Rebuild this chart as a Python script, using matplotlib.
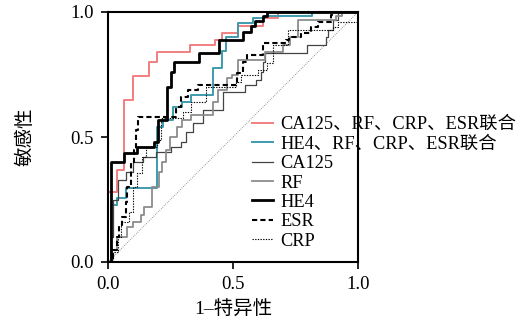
import matplotlib
matplotlib.use("Agg")
import matplotlib.pyplot as plt

# ROC 曲线数据 (1-特异性, 敏感性)
combo1_x = [0, 0, 0.037, 0.065, 0.099, 0.165, 0.197, 0.328, 0.428, 0.455, 0.52, 0.62, 0.68, 1.0]
combo1_y = [0, 0.28, 0.37, 0.65, 0.745, 0.80, 0.84, 0.87, 0.89, 0.915, 0.945, 0.975, 1.0, 1.0]

combo2_x = [0, 0.012, 0.036, 0.07, 0.195, 0.22, 0.26, 0.295, 0.33, 0.42, 0.456, 0.47, 0.52, 0.58, 0.628, 0.815, 1.0]
combo2_y = [0, 0.23, 0.255, 0.295, 0.54, 0.57, 0.62, 0.64, 0.668, 0.776, 0.844, 0.90, 0.956, 0.975, 0.985, 1.0, 1.0]

ca125_x = [0, 0.01, 0.02, 0.04, 0.07, 0.10, 0.14, 0.19, 0.25, 0.29, 0.31, 0.34, 0.38, 0.46, 0.528, 0.548, 0.59, 0.61,
           0.62, 0.628, 0.795, 0.87, 0.88, 0.90, 0.92, 1.0]
ca125_y = [0, 0.10, 0.25, 0.33, 0.36, 0.40, 0.42, 0.44, 0.46, 0.48, 0.52, 0.556, 0.608, 0.68, 0.68, 0.71, 0.73, 0.76,
           0.80, 0.835, 0.868, 0.90, 0.93, 0.968, 1.0, 1.0]

rf_x = [0, 0.01, 0.035, 0.075, 0.10, 0.13, 0.145, 0.175, 0.205, 0.215, 0.23, 0.248, 0.275, 0.295, 0.33, 0.42, 0.44,
        0.475, 0.495, 0.52, 0.628, 0.70, 0.728, 0.76, 0.91, 0.935, 1.0]
rf_y = [0, 0.05, 0.10, 0.14, 0.16, 0.19, 0.22, 0.30, 0.36, 0.40, 0.45, 0.50, 0.54, 0.57, 0.59, 0.64, 0.69,
        0.735, 0.75, 0.808, 0.84, 0.868, 0.90, 0.968, 0.985, 1.0, 1.0]

he4_x = [0, 0.012, 0.064, 0.115, 0.184, 0.20, 0.236, 0.25, 0.264, 0.364, 0.444, 0.54, 0.57, 0.588, 0.62, 0.635, 1.0]
he4_y = [0, 0.40, 0.435, 0.46, 0.48, 0.57, 0.70, 0.76, 0.80, 0.836, 0.89, 0.92, 0.944, 0.964, 0.984, 1.0, 1.0]

esr_x = [0, 0.02, 0.035, 0.045, 0.055, 0.07, 0.075, 0.09, 0.104, 0.11, 0.12, 0.27, 0.29, 0.32, 0.36, 0.515, 0.54,
         0.555, 0.62, 0.71, 0.725, 0.77, 0.81, 0.84, 0.89, 0.90, 1.0]
esr_y = [0, 0.05, 0.10, 0.15, 0.18, 0.24, 0.30, 0.40, 0.45, 0.53, 0.58, 0.62, 0.66, 0.69, 0.708, 0.755, 0.80,
         0.83, 0.875, 0.89, 0.90, 0.915, 0.94, 0.96, 0.988, 1.0, 1.0]

crp_x = [0, 0.02, 0.04, 0.05, 0.085, 0.10, 0.115, 0.135, 0.15, 0.195, 0.21, 0.30, 0.33, 0.39, 0.51, 0.53, 0.60,
         0.635, 0.66, 0.72, 0.90, 0.92, 1.0, 1.0]
crp_y = [0, 0.04, 0.10, 0.16, 0.20, 0.30, 0.356, 0.42, 0.46, 0.49, 0.576, 0.60, 0.64, 0.70, 0.72, 0.748, 0.77,
         0.795, 0.87, 0.928, 0.94, 0.96, 0.98, 1.0]

labels = ["CA125、RF、CRP、ESR联合", "HE4、RF、CRP、ESR联合", "CA125", "RF", "HE4", "ESR", "CRP"]

fonts = ["Liberation Serif", "Noto Sans CJK SC", "DejaVu Sans"]
plt.rcParams["font.family"] = fonts

fig = plt.figure(figsize=(5.27, 3.28), dpi=100)
ax = fig.add_axes([108 / 527, 1 - 262 / 328, 250 / 527, 250 / 328])

# 参考线
ax.plot([0, 1], [0, 1], color="#777777", lw=0.6, linestyle=(0, (1, 1.5)))

ax.plot(combo1_x, combo1_y, drawstyle="steps-post", color="#f07f80", lw=1.4, label=labels[0])
ax.plot(combo2_x, combo2_y, drawstyle="steps-post", color="#3c9bad", lw=1.4, label=labels[1])
ax.plot(ca125_x, ca125_y, drawstyle="steps-post", color="#444444", lw=0.9, label=labels[2])
ax.plot(rf_x, rf_y, drawstyle="steps-post", color="#8c8c8c", lw=1.3, label=labels[3])
ax.plot(he4_x, he4_y, drawstyle="steps-post", color="black", lw=2.0, label=labels[4])
ax.plot(esr_x, esr_y, drawstyle="steps-post", color="black", lw=1.5, linestyle=(0, (2.5, 1.5)), label=labels[5])
ax.plot(crp_x, crp_y, drawstyle="steps-post", color="black", lw=0.8, linestyle=(0, (1.2, 1.2)), label=labels[6])

ax.set_xlim(0, 1)
ax.set_ylim(0, 1)
ax.set_xticks([0, 0.5, 1.0])
ax.set_yticks([0, 0.5, 1.0])
ax.set_xticklabels(["0.0", "0.5", "1.0"])
ax.set_yticklabels(["0.0", "0.5", "1.0"])
ax.tick_params(direction="out", length=5, width=1.2, labelsize=13.5, pad=5)
for s in ax.spines.values():
    s.set_linewidth(1.5)

ax.set_xlabel("1–特异性", fontsize=14, labelpad=6)
ax.set_ylabel("敏感性", fontsize=14, labelpad=26)

fig.legend(loc="center left", bbox_to_anchor=(252 / 527, 1 - 183 / 328), frameon=False,
           fontsize=13.2, handlelength=1.15, handletextpad=0.4, labelspacing=0.13,
           borderpad=0, borderaxespad=0)

fig.savefig("out.png", dpi=100)
